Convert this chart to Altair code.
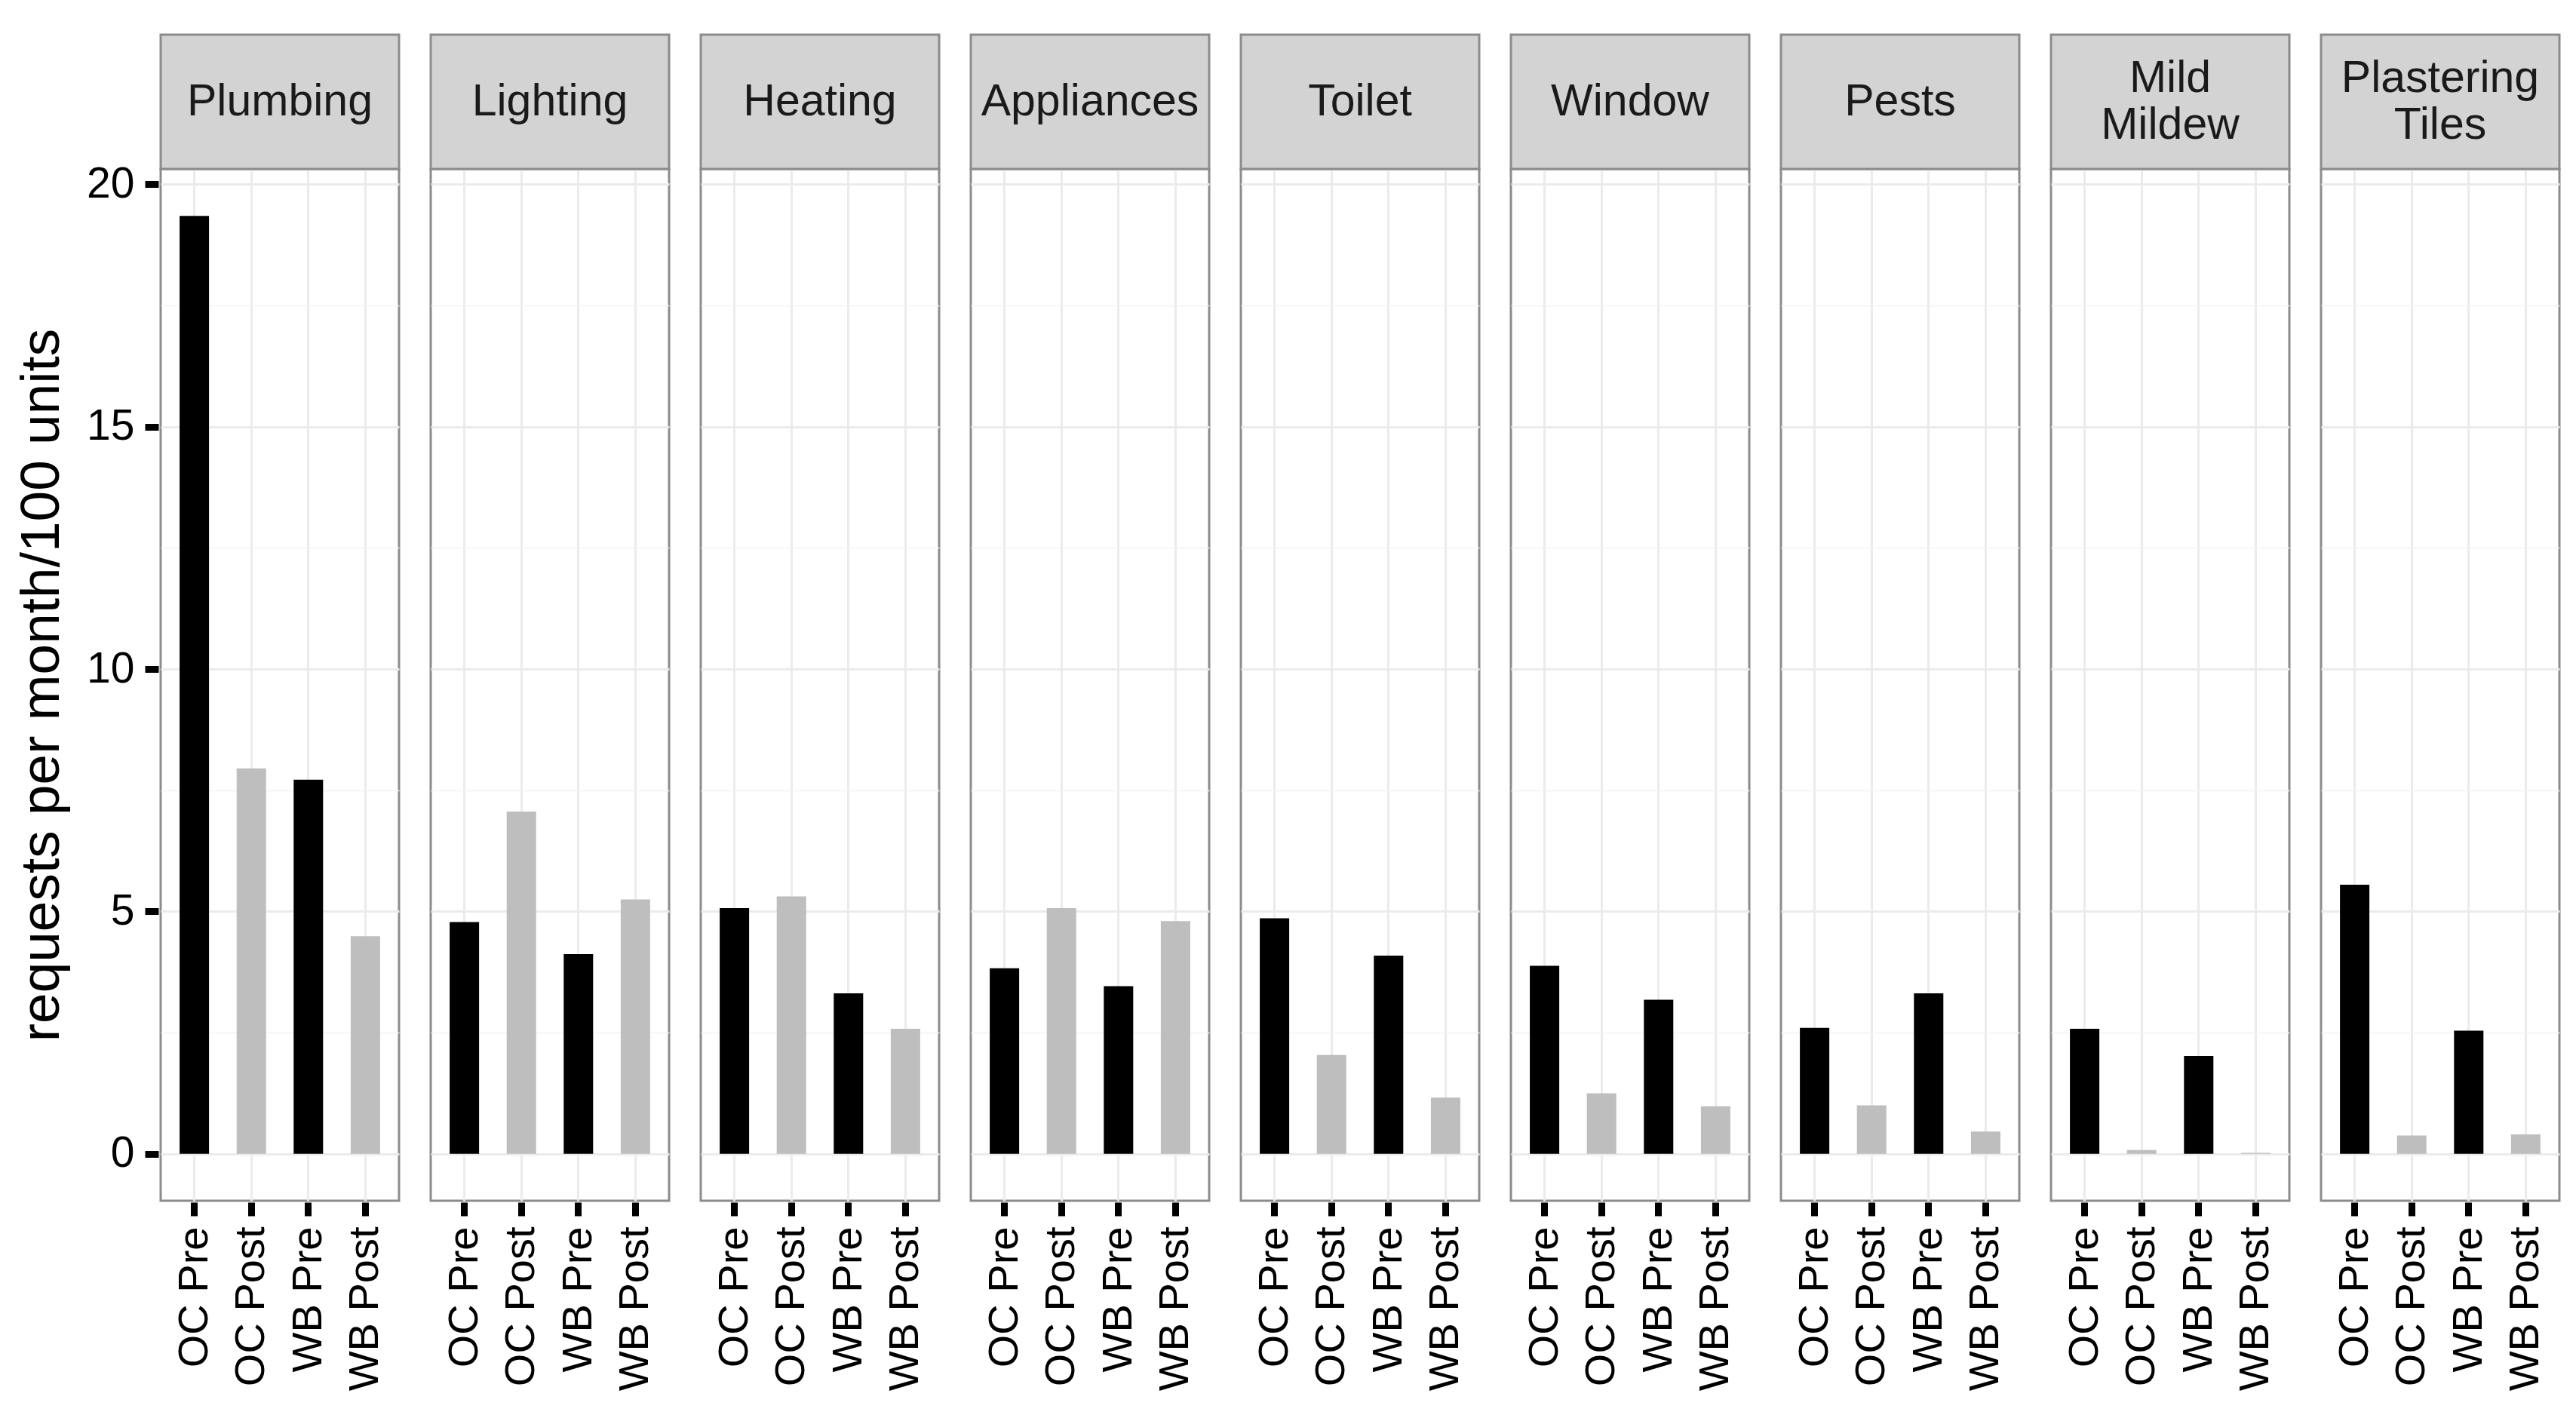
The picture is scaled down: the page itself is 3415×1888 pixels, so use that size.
import altair as alt
import pandas as pd

categories = ["Plumbing", "Lighting", "Heating", "Appliances", "Toilet",
              "Window", "Pests", "Mild Mildew", "Plastering Tiles"]
strip_labels = ["Plumbing", "Lighting", "Heating", "Appliances", "Toilet",
                "Window", "Pests", "Mild\nMildew", "Plastering\nTiles"]
groups = ["OC Pre", "OC Post", "WB Pre", "WB Post"]
phases = ["Pre", "Post", "Pre", "Post"]

oc_pre = [19.35, 4.78, 5.07, 3.83, 4.86, 3.88, 2.60, 2.58, 5.55]
oc_post = [7.95, 7.06, 5.31, 5.07, 2.04, 1.25, 1.00, 0.08, 0.38]
wb_pre = [7.72, 4.12, 3.31, 3.46, 4.09, 3.18, 3.31, 2.02, 2.54]
wb_post = [4.49, 5.25, 2.58, 4.80, 1.16, 0.98, 0.46, 0.02, 0.40]

series = [oc_pre, oc_post, wb_pre, wb_post]
rows = []
for ci, cat in enumerate(categories):
    for gi, g in enumerate(groups):
        rows.append({"category": cat, "strip": strip_labels[ci], "group": g,
                     "phase": phases[gi], "value": series[gi][ci]})
df = pd.DataFrame(rows)

W, H = 316, 1368
STRIP = 178
LINE_H = 62
FONT = "Liberation Sans, Arial, Helvetica, sans-serif"
ymax = max(max(s) for s in series)
pad = 0.05 * ymax

major = "datum.value % 5 === 0"

bars = alt.Chart().mark_bar(size=39).encode(
    x=alt.X("group:N", sort=groups, title=None,
            scale=alt.Scale(paddingInner=0.48, paddingOuter=0.33),
            axis=alt.Axis(labelAngle=270, grid=True, bandPosition=0.5,
                          gridColor="#EBEBEB", gridWidth=3,
                          tickSize=18, tickWidth=9, tickColor="#000000",
                          labelPadding=14, domain=False, labelLimit=0,
                          labelFont=FONT, labelFontSize=56, labelColor="#000000")),
    y=alt.Y("value:Q", title="requests per month/100 units",
            scale=alt.Scale(domain=[-pad, ymax + pad], nice=False, zero=False),
            axis=alt.Axis(values=[0, 2.5, 5, 7.5, 10, 12.5, 15, 17.5, 20],
                          labelExpr="datum.value % 5 === 0 ? datum.label : ''",
                          tickOpacity={"condition": {"test": major, "value": 1}, "value": 0},
                          gridColor={"condition": {"test": major, "value": "#EBEBEB"}, "value": "#F3F3F3"},
                          gridWidth={"condition": {"test": major, "value": 3}, "value": 1.6},
                          tickSize=18, tickWidth=9, tickColor="#000000",
                          labelPadding=14, domain=False, titlePadding=22,
                          labelFont=FONT, labelFontSize=57, labelColor="#000000",
                          titleFont=FONT, titleFontSize=73, titleFontWeight="normal",
                          titleColor="#000000")),
    y2=alt.datum(0),
    color=alt.Color("phase:N", scale=alt.Scale(domain=["Pre", "Post"],
                                               range=["#000000", "#BEBEBE"]),
                    legend=None),
)

strip_rect = alt.Chart().transform_filter(alt.datum.group == "OC Pre").mark_rect(
    fill="#D3D3D3", stroke="#8C8C8C", strokeWidth=3
).encode(
    x=alt.value(0), x2=alt.value(W), y=alt.value(-STRIP), y2=alt.value(0)
)

strip_text = alt.Chart().transform_filter(
    alt.datum.group == "OC Pre"
).transform_calculate(
    off="-(length(split(datum.strip, '\\n')) - 1) * %d / 2" % LINE_H
).mark_text(
    font=FONT, fontSize=59, color="#1A1A1A", lineBreak="\n", lineHeight=LINE_H,
    baseline="middle", align="center"
).encode(
    x=alt.value(W / 2), y=alt.value(-STRIP / 2),
    yOffset=alt.YOffset("off:Q", scale=None),
    text="strip:N"
)

chart = alt.layer(bars, strip_rect, strip_text).properties(
    width=W, height=H
).facet(
    column=alt.Column("category:N", sort=categories,
                      header=alt.Header(title=None, labels=False)),
    data=df, spacing=36
).properties(
    padding={"left": 11, "top": 35, "right": 5, "bottom": 5},
    background="white"
).configure_view(
    stroke="#8C8C8C", strokeWidth=3
)

chart.save("out.html", embed_options={"renderer": "svg", "actions": False})
